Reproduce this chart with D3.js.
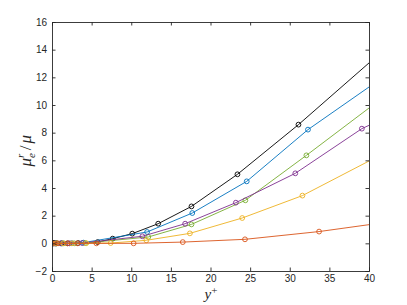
<!DOCTYPE html>
<html>
<head>
<meta charset="utf-8" />
<title>mu_e ratio</title>
<script src="https://d3js.org/d3.v7.min.js"></script>
<style>
  body { margin: 0; background: #fff; }
  .tick text { font-family: "Liberation Sans", Arial, sans-serif; font-size: 10px; fill: #262626; }
</style>
</head>
<body>
<svg id="chart" width="407" height="305"></svg>
<script>
// x positions (y+) and values (mu_e^r / mu) for each run
var blackX = [0, 0.05, 0.1, 0.16, 0.23, 0.3, 0.4, 0.5, 0.59, 1.2, 2.0, 3.3, 5.77, 7.66, 10.13, 13.4, 17.6, 23.4, 31.1, 40];
var blackY = [0, 0, 0, 0, 0, 0, 0, 0, 0, 0, 0, 0.02, 0.09, 0.34, 0.70, 1.42, 2.67, 4.99, 8.58, 13.04];
var blueX = [0, 0.5, 1.3, 2.5, 3.95, 12.0, 17.7, 24.57, 32.3, 40];
var blueY = [0, 0, 0, 0.01, 0.05, 0.82, 2.19, 4.48, 8.22, 11.3];
var greenX = [0, 0.6, 1.5, 2.8, 4.2, 12.15, 17.6, 24.4, 32.1, 40];
var greenY = [0, 0, 0, 0, 0.02, 0.46, 1.37, 3.11, 6.36, 9.78];
var purpleX = [0, 0.4, 1.1, 2.2, 3.8, 11.4, 16.8, 23.2, 30.7, 39.1, 40];
var purpleY = [0, 0, 0, 0, 0.02, 0.51, 1.42, 2.94, 5.06, 8.29, 8.53];
var yellowX = [0, 0.5, 1.39, 2.52, 4.33, 7.4, 11.9, 17.4, 24.0, 31.6, 40];
var yellowY = [0, 0, 0, 0, 0.01, 0.02, 0.22, 0.72, 1.83, 3.45, 5.95];
var redX = [0, 0.76, 1.93, 3.19, 5.6, 10.3, 16.5, 24.35, 33.7, 40];
var redY = [0, 0, 0, 0, 0, 0, 0.09, 0.29, 0.85, 1.35];

// last point of each line runs to the axis edge with no marker
var series = [
  { name: "black", color: "#000000", x: blackX, y: blackY, markerCount: blackX.length - 1 },
  { name: "blue", color: "#0072BD", x: blueX, y: blueY, markerCount: blueX.length - 1 },
  { name: "green", color: "#77AC30", x: greenX, y: greenY, markerCount: greenX.length - 1 },
  { name: "purple", color: "#7E2F8E", x: purpleX, y: purpleY, markerCount: purpleX.length - 1 },
  { name: "yellow", color: "#EDB120", x: yellowX, y: yellowY, markerCount: yellowX.length - 1 },
  { name: "red", color: "#D95319", x: redX, y: redY, markerCount: redX.length - 1 }
];

var xTicks = [0, 5, 10, 15, 20, 25, 30, 35, 40];
var yTicks = [-2, 0, 2, 4, 6, 8, 10, 12, 14, 16];

var padL = 52, padR = 369, padT = 22, padB = 271;
var svg = d3.select("#chart");

var x = d3.scaleLinear().domain([0, 40]).range([padL, padR]);
var y = d3.scaleLinear().domain([-2, 16]).range([padB, padT]);

svg.append("clipPath").attr("id", "clip")
  .append("rect").attr("x", padL).attr("y", padT)
  .attr("width", padR - padL).attr("height", padB - padT);

var plot = svg.append("g").attr("clip-path", "url(#clip)");

var line = d3.line()
  .x(function (d) { return x(d[0]); })
  .y(function (d) { return y(d[1]); });

series.forEach(function (s) {
  var pts = s.x.map(function (v, i) { return [v, s.y[i]]; });
  plot.append("path")
    .datum(pts)
    .attr("fill", "none")
    .attr("stroke", s.color)
    .attr("stroke-width", 0.9)
    .attr("d", line);

  plot.selectAll("circle." + s.name)
    .data(pts.slice(0, s.markerCount))
    .enter().append("circle")
    .attr("class", s.name)
    .attr("cx", function (d) { return x(d[0]); })
    .attr("cy", function (d) { return y(d[1]); })
    .attr("r", 2.4)
    .attr("fill", "none")
    .attr("stroke", s.color)
    .attr("stroke-width", 0.9);
});

// axes, MATLAB style: ticks inward, box on
var axisColor = "#262626";
var tickLen = 3.5;

var xAxis = svg.append("g").attr("transform", "translate(0," + padB + ")")
  .call(d3.axisBottom(x).tickValues(xTicks).tickSize(-tickLen).tickPadding(4).tickFormat(d3.format("d")));
var xAxisTop = svg.append("g").attr("transform", "translate(0," + padT + ")")
  .call(d3.axisTop(x).tickValues(xTicks).tickSize(-tickLen).tickFormat(""));
var yAxis = svg.append("g").attr("transform", "translate(" + padL + ",0)")
  .call(d3.axisLeft(y).tickValues(yTicks).tickSize(-tickLen).tickPadding(5).tickFormat(d3.format("d")));
var yAxisRight = svg.append("g").attr("transform", "translate(" + padR + ",0)")
  .call(d3.axisRight(y).tickValues(yTicks).tickSize(-tickLen).tickFormat(""));

[xAxis, xAxisTop, yAxis, yAxisRight].forEach(function (g) {
  g.select(".domain").attr("stroke", axisColor).attr("stroke-width", 0.9);
  g.selectAll(".tick line").attr("stroke", axisColor).attr("stroke-width", 0.9);
});

// axis labels
var serif = "'Liberation Serif', 'DejaVu Serif', serif";
var xl = svg.append("text")
  .attr("x", (padL + padR) / 2 - 6)
  .attr("y", 299)
  .attr("font-family", serif)
  .attr("font-style", "italic")
  .attr("font-size", 15)
  .attr("fill", axisColor);
xl.append("tspan").text("y");
xl.append("tspan").attr("font-size", 11).attr("dy", -5).attr("font-style", "normal").text("+");

var yl = svg.append("text")
  .attr("transform", "translate(31," + ((padT + padB) / 2 + 20) + ") rotate(-90)")
  .attr("font-family", serif)
  .attr("font-style", "italic")
  .attr("font-size", 17)
  .attr("fill", axisColor);
yl.append("tspan").text("μ");
yl.append("tspan").attr("font-size", 11).attr("dy", -7).text("r");
yl.append("tspan").attr("font-size", 11).attr("dx", -4).attr("dy", 11).text("e");
yl.append("tspan").attr("font-style", "normal").attr("dx", 3).attr("dy", -4).text("/");
yl.append("tspan").attr("dx", 2).text("μ");
</script>
</body>
</html>
